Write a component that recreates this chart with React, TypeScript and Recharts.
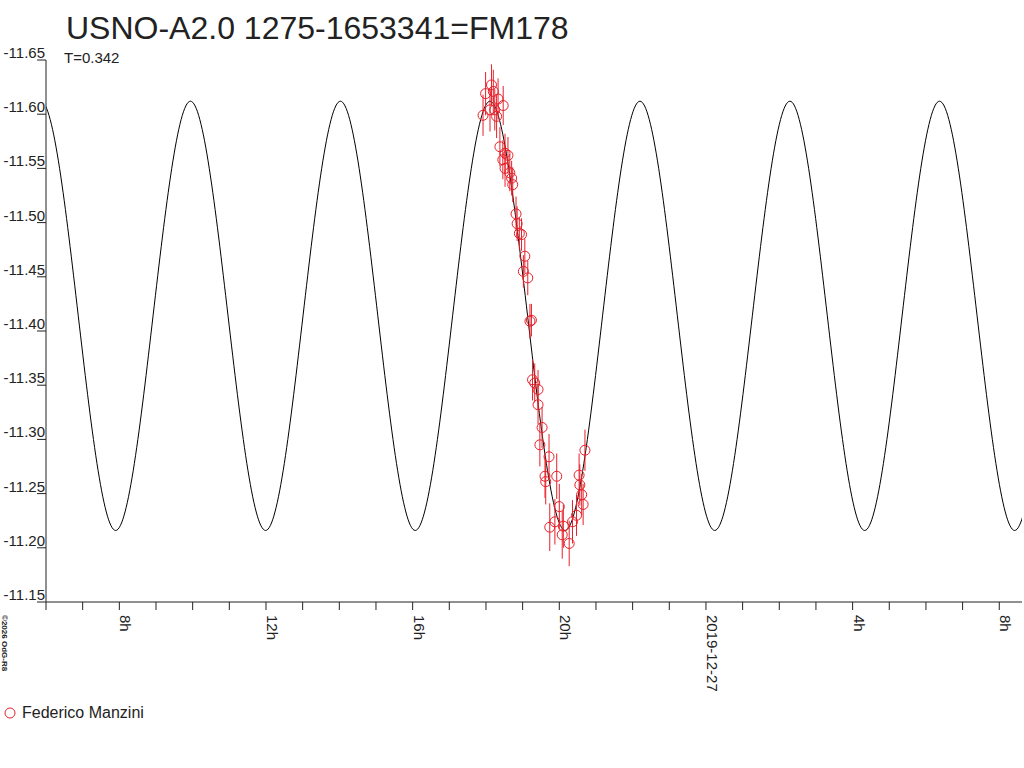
import { ComposedChart, Line, Scatter, ErrorBar, XAxis, YAxis } from 'recharts'

const RED = '#e8202a'
const INK = '#222222'
const FONT = '"Liberation Sans", Arial, sans-serif'

// hours relative to 2019-12-27 00:00
const HOUR_TICKS = [
  -18, -17, -16, -15, -14, -13, -12, -11, -10, -9, -8, -7, -6, -5, -4, -3, -2, -1,
  0, 1, 2, 3, 4, 5, 6, 7, 8,
]
const HOUR_LABELS: Record<number, string> = {
  [-16]: '8h',
  [-12]: '12h',
  [-8]: '16h',
  [-4]: '20h',
  0: '2019-12-27',
  4: '4h',
  8: '8h',
}
const MAG_TICKS = [-11.65, -11.6, -11.55, -11.5, -11.45, -11.4, -11.35, -11.3, -11.25, -11.2, -11.15]

// fitted light curve, maxima and minima
const FIT_HOURS = [
  -20.18, -18.14, -16.1, -14.06, -12.01, -9.97, -7.93, -5.89, -3.84, -1.8, 0.24, 2.29, 4.33, 6.37, 8.42, 10.46,
  12.5,
]
const FIT_MAGS = [
  -11.216, -11.612, -11.216, -11.612, -11.216, -11.612, -11.216, -11.612, -11.216,
  -11.612, -11.216, -11.612, -11.216, -11.612, -11.216, -11.612, -11.216,
]

// observations (Federico Manzini)
const OBS_HOURS = [
  -6.08, -6.01, -5.89, -5.85, -5.8, -5.76, -5.71, -5.67, -5.53, -5.62, -5.48, -5.4, -5.54, -5.48, -5.35, -5.3,
  -5.27, -5.18, -5.15, -5.09, -5.03, -4.94, -4.98, -4.86, -4.8, -4.76, -4.73, -4.67, -4.58, -4.58, -4.47, -4.53,
  -4.28, -4.39, -4.37, -4.07, -4.0, -4.26, -4.12, -3.92, -3.89, -3.73, -3.64, -3.53, -3.46, -3.39, -3.35, -3.3,
  -3.44,
]
const OBS_MAGS = [
  -11.599, -11.619, -11.604, -11.627, -11.621, -11.604, -11.598, -11.614, -11.608, -11.57, -11.564, -11.562,
  -11.558, -11.55, -11.546, -11.541, -11.535, -11.508, -11.499, -11.49, -11.489, -11.469, -11.455, -11.449,
  -11.409, -11.41, -11.355, -11.352, -11.346, -11.332, -11.311, -11.295, -11.284, -11.266, -11.261, -11.266,
  -11.238, -11.219, -11.224, -11.212, -11.22, -11.204, -11.224, -11.23, -11.267, -11.249, -11.24, -11.29,
  -11.258,
]
const OBS_ERRS = [
  0.019, 0.02, 0.02, 0.019, 0.02, 0.019, 0.02, 0.019, 0.018, 0.018, 0.018, 0.017, 0.018, 0.017, 0.017, 0.016,
  0.016, 0.016, 0.016, 0.015, 0.015, 0.016, 0.015, 0.016, 0.016, 0.015, 0.019, 0.018, 0.018, 0.018, 0.019, 0.02,
  0.021, 0.02, 0.021, 0.021, 0.021, 0.022, 0.021, 0.022, 0.02, 0.021, 0.02, 0.019, 0.02, 0.019, 0.019, 0.019,
  0.019,
]

const fit = FIT_HOURS.map((h, i) => ({ h, mag: FIT_MAGS[i] }))
const obs = OBS_HOURS.map((h, i) => ({ h, mag: OBS_MAGS[i], err: OBS_ERRS[i] }))

function MagTick({ x, y, payload }: any) {
  return (
    <g>
      <line x1={x - 9} y1={y} x2={x} y2={y} stroke={INK} />
      <text x={x - 1} y={y - 2} textAnchor="end" fill={INK} fontSize={15} fontFamily={FONT}>
        {Number(payload.value).toFixed(2)}
      </text>
    </g>
  )
}

function HourTick({ x, y, payload }: any) {
  const label = HOUR_LABELS[payload.value]
  return (
    <g>
      <line x1={x} y1={y} x2={x} y2={y + 8} stroke={INK} />
      {label && (
        <text
          x={x + 1}
          y={y + 13}
          transform={`rotate(90 ${x + 1} ${y + 13})`}
          fill={INK}
          fontSize={15}
          fontFamily={FONT}
        >
          {label}
        </text>
      )}
    </g>
  )
}

const ObsDot = ({ cx, cy }: any) => <circle cx={cx} cy={cy} r={5} fill="none" stroke={RED} />

export default function App() {
  return (
    <div style={{ position: 'absolute', left: 0, top: 0, width: 1024, height: 768, background: '#fff' }}>
      <ComposedChart width={1024} height={768} margin={{ top: 60, right: 2, bottom: 66, left: 0 }}>
        <XAxis
          type="number"
          dataKey="h"
          domain={[-18, 8.62]}
          ticks={HOUR_TICKS}
          interval={0}
          allowDataOverflow
          height={100}
          tickSize={0}
          tickMargin={0}
          tickLine={false}
          axisLine={{ stroke: INK }}
          tick={<HourTick />}
        />
        <YAxis
          type="number"
          dataKey="mag"
          domain={[-11.65, -11.15]}
          ticks={MAG_TICKS}
          interval={0}
          reversed
          allowDataOverflow
          width={46}
          tickSize={0}
          tickMargin={0}
          tickLine={false}
          axisLine={{ stroke: INK }}
          tick={<MagTick />}
        />
        <Line
          data={fit}
          dataKey="mag"
          type="monotone"
          stroke="#000"
          strokeWidth={1}
          dot={false}
          activeDot={false}
          isAnimationActive={false}
        />
        <Scatter data={obs} dataKey="mag" shape={<ObsDot />} isAnimationActive={false}>
          <ErrorBar dataKey="err" direction="y" width={0} stroke={RED} strokeWidth={1} isAnimationActive={false} />
        </Scatter>
      </ComposedChart>
      <svg width={1024} height={768} style={{ position: 'absolute', left: 0, top: 0, pointerEvents: 'none' }}>
        <text x={66} y={39} fontSize={32} fill={INK} fontFamily={FONT}>
          USNO-A2.0 1275-1653341=FM178
        </text>
        <text x={64} y={63} fontSize={15} fill={INK} fontFamily={FONT}>
          T=0.342
        </text>
        <text
          x={2}
          y={615}
          transform="rotate(90 2 615)"
          fontSize={8}
          fontWeight="bold"
          fill={INK}
          fontFamily={FONT}
        >
          ©2026 OdG-R8
        </text>
        <circle cx={10} cy={713} r={5} fill="none" stroke={RED} />
        <text x={22} y={718} fontSize={16} fill={INK} fontFamily={FONT}>
          Federico Manzini
        </text>
      </svg>
    </div>
  )
}
